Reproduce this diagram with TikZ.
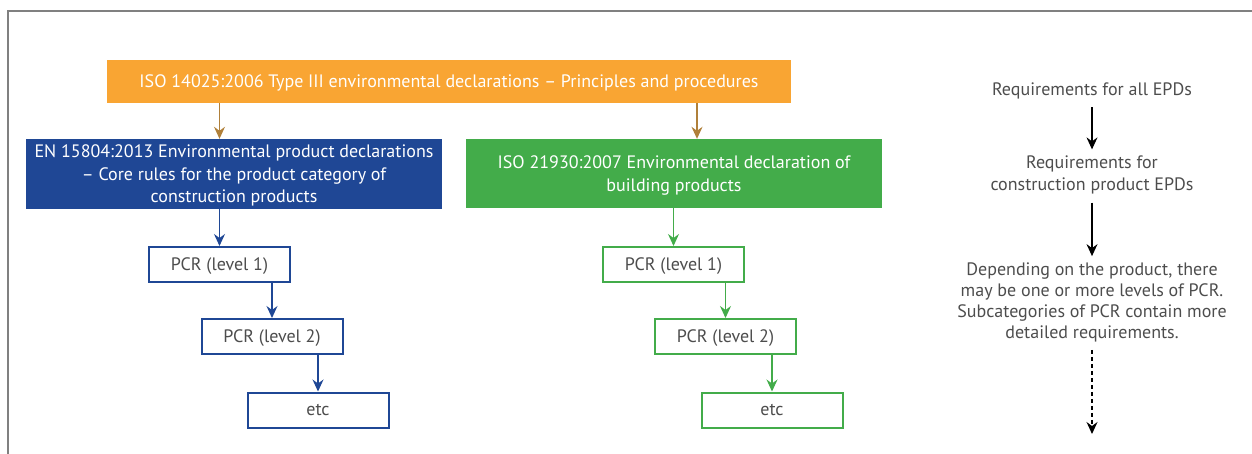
\documentclass[tikz,border=0pt]{standalone}
\usepackage{fontspec}
\setmainfont{PT Sans}
\usetikzlibrary{arrows.meta,positioning}

\definecolor{isoorange}{HTML}{F9A533}
\definecolor{isobrown}{HTML}{B0803A}
\definecolor{enblue}{HTML}{1F4795}
\definecolor{isogreen}{HTML}{43AC4A}
\definecolor{txtgray}{HTML}{4D4D4D}

\tikzset{
  headbox/.style={rectangle,inner sep=0pt,text=white,align=center,text depth=0pt},
  pcrbox/.style={rectangle,draw,line width=2pt,fill=white,text=txtgray,text depth=0pt,
    inner sep=0pt,minimum width=141pt,minimum height=35pt},
  notetext/.style={text=txtgray,align=center,inner sep=0pt},
  flow/.style={->,line width=1.2pt},
}

\begin{document}
\begin{tikzpicture}[x=1pt,y=-1pt,>={Stealth[length=12pt,width=11pt,inset=4pt]},
    font=\fontsize{18}{22.5}\selectfont]
        \useasboundingbox (0,0) rectangle (1252,454);
        % frame
        \draw[gray,line width=1.5pt] (8,454)--(8,11)--(1252,11);

        % standards
        \node[headbox,fill=isoorange,minimum width=684pt,minimum height=43pt] (iso) at (449,81.5)
            {ISO 14025:2006 Type III environmental declarations – Principles and procedures};
        \node[headbox,fill=enblue,minimum width=416pt,minimum height=70pt] (en) at (234,174)
            {EN 15804:2013 Environmental product declarations\\– Core rules for the product category of\\construction products};
        \node[headbox,fill=isogreen,minimum width=416pt,minimum height=69pt] (gr) at (674,173.5)
            {ISO 21930:2007 Environmental declaration of\\building products};

        % PCR levels
        \node[pcrbox,draw=enblue] (b1) at (219.5,264.5) {PCR (level 1)};
        \node[pcrbox,draw=enblue] (b2) at (272,336.5) {PCR (level 2)};
        \node[pcrbox,draw=enblue] (b3) at (318,410) {etc};
        \node[pcrbox,draw=isogreen] (g1) at (673.5,264.5) {PCR (level 1)};
        \node[pcrbox,draw=isogreen] (g2) at (725.5,336.5) {PCR (level 2)};
        \node[pcrbox,draw=isogreen] (g3) at (772,410) {etc};

        % notes
        \node[notetext] (n1) at (1092,91) {Requirements for all EPDs};
        \node[notetext] (n2) at (1092,175) {Requirements for\\construction product EPDs};
        \node[notetext,font=\fontsize{18}{21}\selectfont] (n3) at (1092,302)
            {Depending on the product, there\\may be one or more levels of PCR.\\Subcategories of PCR contain more\\detailed requirements.};
        \coordinate (n4) at (1092,434);

        % arrows
        \draw[flow,isobrown] (iso.south -| b1) -- (en.north -| b1);
        \draw[flow,isobrown] ([xshift=23pt]iso.south -| gr.north) -- ([xshift=23pt]gr.north);
        \draw[flow,enblue] (en.south -| b1) -- (b1);
        \draw[flow,enblue] (b1.south -| b2) -- (b2);
        \draw[flow,enblue] (b2.south -| b3) -- (b3);
        \draw[flow,isogreen] (gr.south -| g1) -- (g1);
        \draw[flow,isogreen] (g1.south -| g2) -- (g2);
        \draw[flow,isogreen] (g2.south -| g3) -- (g3);
        \draw[flow,black] ([yshift=-8pt]n1.south) -- ([yshift=6pt]n2.north);
        \draw[flow,black] ([yshift=-8pt]n2.south) -- ([yshift=6pt]n3.north);
        \draw[flow,black,dash pattern=on 4pt off 3pt] ([yshift=-8pt]n3.south) -- (n4);
\end{tikzpicture}
\end{document}
